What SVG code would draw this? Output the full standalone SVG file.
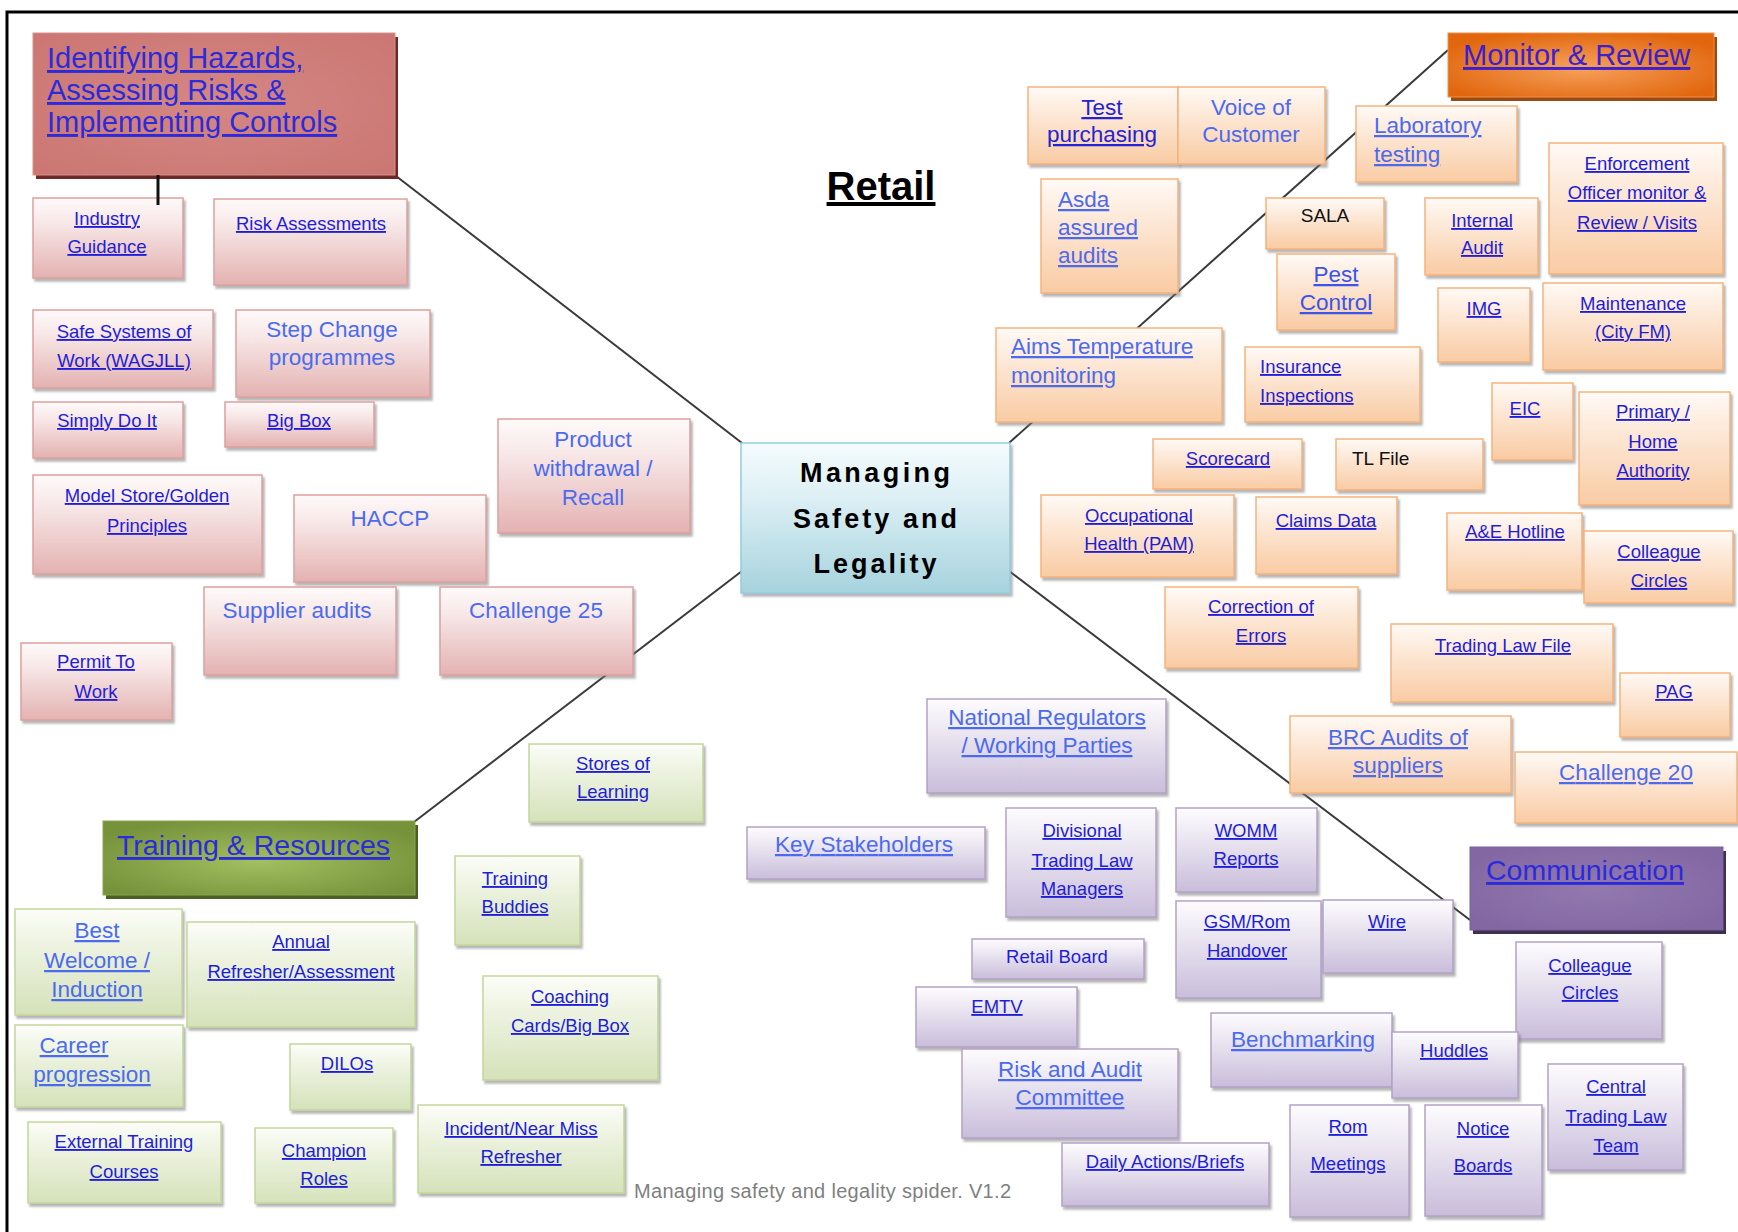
<svg xmlns="http://www.w3.org/2000/svg" width="1738" height="1232" viewBox="0 0 1738 1232">
<defs>
<linearGradient id="gr" x1="0" y1="0" x2="0" y2="1"><stop offset="0" stop-color="#fefafa"/><stop offset="0.3" stop-color="#f8e8e8"/><stop offset="1" stop-color="#e3b2b1"/></linearGradient>
<linearGradient id="go" x1="0" y1="0" x2="0" y2="1"><stop offset="0" stop-color="#fffaf6"/><stop offset="0.3" stop-color="#fdebdc"/><stop offset="1" stop-color="#f9cba3"/></linearGradient>
<linearGradient id="gg" x1="0" y1="0" x2="0" y2="1"><stop offset="0" stop-color="#fcfdf8"/><stop offset="0.3" stop-color="#eff4e3"/><stop offset="1" stop-color="#d5e2ba"/></linearGradient>
<linearGradient id="gp" x1="0" y1="0" x2="0" y2="1"><stop offset="0" stop-color="#fdfcfe"/><stop offset="0.3" stop-color="#eeeaf3"/><stop offset="1" stop-color="#c9bddb"/></linearGradient>
<linearGradient id="gc" x1="0" y1="0" x2="0" y2="1"><stop offset="0" stop-color="#f4fbfd"/><stop offset="0.35" stop-color="#def0f5"/><stop offset="1" stop-color="#a6d3de"/></linearGradient>
<radialGradient id="hr" cx="0.5" cy="0.5" r="0.7"><stop offset="0" stop-color="#d48783"/><stop offset="1" stop-color="#cb7673"/></radialGradient>
<radialGradient id="ho" cx="0.5" cy="0.55" r="0.6"><stop offset="0" stop-color="#f6a15c"/><stop offset="1" stop-color="#e1660d"/></radialGradient>
<radialGradient id="hg" cx="0.5" cy="0.55" r="0.6"><stop offset="0" stop-color="#a2c060"/><stop offset="1" stop-color="#76923b"/></radialGradient>
<radialGradient id="hp" cx="0.5" cy="0.5" r="0.6"><stop offset="0" stop-color="#9279ae"/><stop offset="1" stop-color="#8367a3"/></radialGradient>
<filter id="sh" x="-10%" y="-10%" width="125%" height="130%"><feDropShadow dx="2" dy="3" stdDeviation="1.2" flood-color="#7a7a7a" flood-opacity="0.55"/></filter>
</defs>
<style>
.br{fill:url(#gr);stroke:#dea09e;stroke-width:1.5;filter:url(#sh)}
.bo{fill:url(#go);stroke:#f6b27c;stroke-width:1.5;filter:url(#sh)}
.bg{fill:url(#gg);stroke:#c3d69b;stroke-width:1.5;filter:url(#sh)}
.bp{fill:url(#gp);stroke:#b3a2c7;stroke-width:1.5;filter:url(#sh)}
text{font-family:"Liberation Sans",Arial,sans-serif}
.dk{font-size:18.5px;fill:#1e1ed8;text-decoration:underline;text-anchor:middle}
.md{font-size:22.5px;fill:#2424d4;text-decoration:underline;text-anchor:middle}
.lt{font-size:22.5px;fill:#4b6bef;text-decoration:underline;text-anchor:middle}
.ltn{font-size:22.5px;fill:#4b6bef;text-anchor:middle}
.l{text-anchor:start}
.blk{font-size:19px;fill:#111}
.hd{font-size:29px;fill:#2b2bdc;text-decoration:underline}
.ctr{font-size:27px;font-weight:bold;fill:#000;text-anchor:middle}
.ln{stroke:#3a3a3a;stroke-width:2;fill:none}
</style>
<rect width="1738" height="1232" fill="#fff"/>
<path d="M7,1232 V12 H1738" fill="none" stroke="#000" stroke-width="3"/>

<g id="connectors">
<line class="ln" x1="742" y1="443" x2="396" y2="176"/>
<line class="ln" x1="1009" y1="443" x2="1448" y2="50"/>
<line class="ln" x1="742" y1="571" x2="414" y2="822"/>
<line class="ln" x1="1009" y1="571" x2="1470" y2="920"/>
</g>

<text x="881" y="200" style="font-size:40px;font-weight:bold;fill:#000;text-anchor:middle;text-decoration:underline">Retail</text>

<!-- Red group -->
<g id="n-identifying">
<rect x="36" y="37" width="362" height="142" fill="#6b2a28"/>
<rect x="33" y="33" width="362" height="142" fill="url(#hr)" stroke="#d88f8c" stroke-width="1"/>
<text class="hd l"><tspan x="47" y="68">Identifying Hazards,</tspan><tspan x="47" y="100">Assessing Risks &amp;</tspan><tspan x="47" y="132">Implementing Controls</tspan></text>
</g>
<g id="n-industry"><rect class="br" x="33" y="198" width="150" height="80"/><text class="dk"><tspan x="107" y="225">Industry</tspan><tspan x="107" y="253">Guidance</tspan></text></g>
<g id="n-risk-assessments"><rect class="br" x="214" y="199" width="193" height="86"/><text class="dk"><tspan x="311" y="230">Risk Assessments</tspan></text></g>
<g id="n-safe-systems"><rect class="br" x="33" y="310" width="180" height="78"/><text class="dk"><tspan x="124" y="338">Safe Systems of</tspan><tspan x="124" y="367">Work (WAGJLL)</tspan></text></g>
<g id="n-step-change"><rect class="br" x="236" y="310" width="194" height="87"/><text class="ltn"><tspan x="332" y="337">Step Change</tspan><tspan x="332" y="365">programmes</tspan></text></g>
<g id="n-simply"><rect class="br" x="33" y="402" width="150" height="56"/><text class="dk"><tspan x="107" y="427">Simply Do It</tspan></text></g>
<g id="n-bigbox"><rect class="br" x="225" y="402" width="149" height="45"/><text class="dk"><tspan x="299" y="427">Big Box</tspan></text></g>
<g id="n-product"><rect class="br" x="498" y="419" width="192" height="114"/><text class="ltn"><tspan x="593" y="447">Product</tspan><tspan x="593" y="476">withdrawal /</tspan><tspan x="593" y="505">Recall</tspan></text></g>
<g id="n-model-store"><rect class="br" x="33" y="475" width="229" height="99"/><text class="dk"><tspan x="147" y="502">Model Store/Golden</tspan><tspan x="147" y="532">Principles</tspan></text></g>
<g id="n-haccp"><rect class="br" x="294" y="495" width="192" height="87"/><text class="ltn"><tspan x="390" y="526">HACCP</tspan></text></g>
<g id="n-supplier"><rect class="br" x="204" y="587" width="192" height="88"/><text class="ltn"><tspan x="297" y="618">Supplier audits</tspan></text></g>
<g id="n-challenge25"><rect class="br" x="440" y="587" width="193" height="88"/><text class="ltn"><tspan x="536" y="618" textLength="134">Challenge 25</tspan></text></g>
<g id="n-permit"><rect class="br" x="21" y="643" width="151" height="77"/><text class="dk"><tspan x="96" y="668">Permit To</tspan><tspan x="96" y="698">Work</tspan></text></g>

<!-- Green group -->
<g id="n-training">
<rect x="106" y="825" width="312" height="74" fill="#4a5e25"/>
<rect x="103" y="821" width="312" height="74" fill="url(#hg)" stroke="#8aa64d" stroke-width="1"/>
<text class="hd l" style="font-size:28.5px"><tspan x="117" y="855">Training &amp; Resources</tspan></text>
</g>
<g id="n-stores"><rect class="bg" x="529" y="744" width="174" height="78"/><text class="dk"><tspan x="613" y="770">Stores of</tspan><tspan x="613" y="798">Learning</tspan></text></g>
<g id="n-buddies"><rect class="bg" x="455" y="856" width="125" height="89"/><text class="dk"><tspan x="515" y="885">Training</tspan><tspan x="515" y="913">Buddies</tspan></text></g>
<g id="n-best-welcome"><rect class="bg" x="15" y="909" width="167" height="106"/><text class="lt"><tspan x="97" y="938">Best</tspan><tspan x="97" y="968">Welcome /</tspan><tspan x="97" y="997">Induction</tspan></text></g>
<g id="n-annual"><rect class="bg" x="187" y="922" width="228" height="105"/><text class="dk"><tspan x="301" y="948">Annual</tspan><tspan x="301" y="978">Refresher/Assessment</tspan></text></g>
<g id="n-career"><rect class="bg" x="15" y="1025" width="168" height="82"/><text class="lt"><tspan x="74" y="1053">Career</tspan><tspan x="92" y="1082">progression</tspan></text></g>
<g id="n-dilos"><rect class="bg" x="290" y="1044" width="121" height="66"/><text class="dk"><tspan x="347" y="1070">DILOs</tspan></text></g>
<g id="n-coaching"><rect class="bg" x="483" y="976" width="175" height="104"/><text class="dk"><tspan x="570" y="1003">Coaching</tspan><tspan x="570" y="1032">Cards/Big Box</tspan></text></g>
<g id="n-external"><rect class="bg" x="28" y="1122" width="193" height="81"/><text class="dk"><tspan x="124" y="1148">External Training</tspan><tspan x="124" y="1178">Courses</tspan></text></g>
<g id="n-champion"><rect class="bg" x="255" y="1128" width="138" height="75"/><text class="dk"><tspan x="324" y="1157">Champion</tspan><tspan x="324" y="1185">Roles</tspan></text></g>
<g id="n-incident"><rect class="bg" x="418" y="1105" width="206" height="88"/><text class="dk"><tspan x="521" y="1135">Incident/Near Miss</tspan><tspan x="521" y="1163">Refresher</tspan></text></g>

<text x="634" y="1198" textLength="377" style="font-size:20px;fill:#7f7f7f">Managing safety and legality spider. V1.2</text>

<!-- Center -->
<g id="n-managing"><rect x="741" y="443" width="269" height="150" fill="url(#gc)" stroke="#93cddd" stroke-width="1.5" filter="url(#sh)"/>
<text class="ctr"><tspan x="875" y="482" textLength="150" lengthAdjust="spacing">Managing</tspan><tspan x="875" y="528" textLength="164" lengthAdjust="spacing">Safety and</tspan><tspan x="875" y="573" textLength="123" lengthAdjust="spacing">Legality</tspan></text></g>

<!-- Orange group -->
<g id="n-monitor">
<rect x="1451" y="37" width="266" height="64" fill="#9c4a12"/>
<rect x="1448" y="33" width="266" height="64" fill="url(#ho)" stroke="#f0914a" stroke-width="1"/>
<text class="hd l" style="fill:#3b1fd2"><tspan x="1463" y="65">Monitor &amp; Review</tspan></text>
</g>
<g id="n-test"><rect class="bo" x="1028" y="87" width="150" height="77"/><text class="md"><tspan x="1102" y="115">Test</tspan><tspan x="1102" y="142">purchasing</tspan></text></g>
<g id="n-voice"><rect class="bo" x="1178" y="87" width="147" height="77"/><text class="ltn"><tspan x="1251" y="115">Voice of</tspan><tspan x="1251" y="142">Customer</tspan></text></g>
<g id="n-asda"><rect class="bo" x="1041" y="179" width="137" height="114"/><text class="lt l"><tspan x="1058" y="207">Asda</tspan><tspan x="1058" y="235">assured</tspan><tspan x="1058" y="263">audits</tspan></text></g>
<g id="n-aims"><rect class="bo" x="996" y="328" width="226" height="94"/><text class="lt l"><tspan x="1011" y="354">Aims Temperature</tspan><tspan x="1011" y="383">monitoring</tspan></text></g>
<g id="n-lab"><rect class="bo" x="1356" y="106" width="161" height="76"/><text class="lt l"><tspan x="1374" y="133">Laboratory</tspan><tspan x="1374" y="162">testing</tspan></text></g>
<g id="n-sala"><rect class="bo" x="1266" y="198" width="118" height="51"/><text class="blk" style="text-anchor:middle"><tspan x="1325" y="222">SALA</tspan></text></g>
<g id="n-pest"><rect class="bo" x="1277" y="254" width="118" height="76"/><text class="md" style="fill:#3a55e8"><tspan x="1336" y="282">Pest</tspan><tspan x="1336" y="310">Control</tspan></text></g>
<g id="n-internal"><rect class="bo" x="1425" y="198" width="113" height="77"/><text class="dk"><tspan x="1482" y="227">Internal</tspan><tspan x="1482" y="254">Audit</tspan></text></g>
<g id="n-enforcement"><rect class="bo" x="1549" y="143" width="174" height="131"/><text class="dk"><tspan x="1637" y="170">Enforcement</tspan><tspan x="1637" y="199">Officer monitor &amp;</tspan><tspan x="1637" y="229">Review / Visits</tspan></text></g>
<g id="n-img"><rect class="bo" x="1438" y="288" width="92" height="74"/><text class="dk"><tspan x="1484" y="315">IMG</tspan></text></g>
<g id="n-maintenance"><rect class="bo" x="1543" y="283" width="180" height="87"/><text class="dk"><tspan x="1633" y="310">Maintenance</tspan><tspan x="1633" y="338">(City FM)</tspan></text></g>
<g id="n-insurance"><rect class="bo" x="1245" y="347" width="175" height="75"/><text class="dk l"><tspan x="1260" y="373">Insurance</tspan><tspan x="1260" y="402">Inspections</tspan></text></g>
<g id="n-eic"><rect class="bo" x="1492" y="383" width="81" height="77"/><text class="dk"><tspan x="1525" y="415">EIC</tspan></text></g>
<g id="n-primary"><rect class="bo" x="1579" y="392" width="151" height="113"/><text class="dk"><tspan x="1653" y="418">Primary /</tspan><tspan x="1653" y="448">Home</tspan><tspan x="1653" y="477">Authority</tspan></text></g>
<g id="n-scorecard"><rect class="bo" x="1153" y="439" width="149" height="50"/><text class="dk"><tspan x="1228" y="465">Scorecard</tspan></text></g>
<g id="n-tlfile"><rect class="bo" x="1336" y="439" width="147" height="51"/><text class="blk"><tspan x="1352" y="465">TL File</tspan></text></g>
<g id="n-occupational"><rect class="bo" x="1041" y="495" width="193" height="82"/><text class="dk"><tspan x="1139" y="522">Occupational</tspan><tspan x="1139" y="550">Health (PAM)</tspan></text></g>
<g id="n-claims"><rect class="bo" x="1256" y="497" width="141" height="77"/><text class="dk"><tspan x="1326" y="527">Claims Data</tspan></text></g>
<g id="n-ae"><rect class="bo" x="1447" y="513" width="135" height="77"/><text class="dk"><tspan x="1515" y="538">A&amp;E Hotline</tspan></text></g>
<g id="n-colleague-o"><rect class="bo" x="1584" y="531" width="149" height="72"/><text class="dk"><tspan x="1659" y="558">Colleague</tspan><tspan x="1659" y="587">Circles</tspan></text></g>
<g id="n-correction"><rect class="bo" x="1165" y="587" width="193" height="81"/><text class="dk"><tspan x="1261" y="613">Correction of</tspan><tspan x="1261" y="642">Errors</tspan></text></g>
<g id="n-tlf"><rect class="bo" x="1391" y="624" width="222" height="78"/><text class="dk"><tspan x="1503" y="652">Trading Law File</tspan></text></g>
<g id="n-pag"><rect class="bo" x="1620" y="673" width="110" height="64"/><text class="dk"><tspan x="1674" y="698">PAG</tspan></text></g>
<g id="n-brc"><rect class="bo" x="1290" y="716" width="221" height="77"/><text class="lt"><tspan x="1398" y="745">BRC Audits of</tspan><tspan x="1398" y="773">suppliers</tspan></text></g>
<g id="n-challenge20"><rect class="bo" x="1515" y="752" width="222" height="71"/><text class="lt"><tspan x="1626" y="780" textLength="134">Challenge 20</tspan></text></g>

<!-- Purple group -->
<g id="n-communication">
<rect x="1473" y="851" width="253" height="83" fill="#3d3050"/>
<rect x="1470" y="847" width="253" height="83" fill="url(#hp)" stroke="#7d62a0" stroke-width="1"/>
<text class="hd l" style="font-size:28.5px"><tspan x="1486" y="880">Communication</tspan></text>
</g>
<g id="n-national"><rect class="bp" x="927" y="699" width="239" height="94"/><text class="lt"><tspan x="1047" y="725">National Regulators</tspan><tspan x="1047" y="753">/ Working Parties</tspan></text></g>
<g id="n-key"><rect class="bp" x="747" y="827" width="238" height="52"/><text class="lt"><tspan x="864" y="852" textLength="178">Key Stakeholders</tspan></text></g>
<g id="n-divisional"><rect class="bp" x="1006" y="808" width="150" height="109"/><text class="dk"><tspan x="1082" y="837">Divisional</tspan><tspan x="1082" y="867">Trading Law</tspan><tspan x="1082" y="895">Managers</tspan></text></g>
<g id="n-womm"><rect class="bp" x="1176" y="808" width="141" height="84"/><text class="dk"><tspan x="1246" y="837">WOMM</tspan><tspan x="1246" y="865">Reports</tspan></text></g>
<g id="n-gsm"><rect class="bp" x="1176" y="901" width="145" height="97"/><text class="dk"><tspan x="1247" y="928">GSM/Rom</tspan><tspan x="1247" y="957">Handover</tspan></text></g>
<g id="n-wire"><rect class="bp" x="1323" y="900" width="130" height="73"/><text class="dk"><tspan x="1387" y="928">Wire</tspan></text></g>
<g id="n-retail-board"><rect class="bp" x="972" y="939" width="172" height="40"/><text class="dk" style="text-decoration:none"><tspan x="1057" y="963">Retail Board</tspan></text></g>
<g id="n-emtv"><rect class="bp" x="916" y="987" width="161" height="60"/><text class="dk"><tspan x="997" y="1013">EMTV</tspan></text></g>
<g id="n-benchmarking"><rect class="bp" x="1211" y="1013" width="181" height="74"/><text class="lt"><tspan x="1303" y="1047">Benchmarking</tspan></text></g>
<g id="n-risk-audit"><rect class="bp" x="962" y="1049" width="216" height="89"/><text class="lt"><tspan x="1070" y="1077">Risk and Audit</tspan><tspan x="1070" y="1105">Committee</tspan></text></g>
<g id="n-daily"><rect class="bp" x="1062" y="1143" width="207" height="63"/><text class="dk"><tspan x="1165" y="1168">Daily Actions/Briefs</tspan></text></g>
<g id="n-colleague-p"><rect class="bp" x="1516" y="942" width="146" height="97"/><text class="dk"><tspan x="1590" y="972">Colleague</tspan><tspan x="1590" y="999">Circles</tspan></text></g>
<g id="n-huddles"><rect class="bp" x="1392" y="1032" width="126" height="66"/><text class="dk"><tspan x="1454" y="1057">Huddles</tspan></text></g>
<g id="n-central"><rect class="bp" x="1548" y="1064" width="135" height="106"/><text class="dk"><tspan x="1616" y="1093">Central</tspan><tspan x="1616" y="1123">Trading Law</tspan><tspan x="1616" y="1152">Team</tspan></text></g>
<g id="n-rom"><rect class="bp" x="1290" y="1105" width="119" height="112"/><text class="dk"><tspan x="1348" y="1133">Rom</tspan><tspan x="1348" y="1170">Meetings</tspan></text></g>
<g id="n-notice"><rect class="bp" x="1425" y="1105" width="117" height="111"/><text class="dk"><tspan x="1483" y="1135">Notice</tspan><tspan x="1483" y="1172">Boards</tspan></text></g>

<g id="connector-stub"><line x1="158" y1="175" x2="158" y2="205" stroke="#111" stroke-width="3"/></g>
</svg>
